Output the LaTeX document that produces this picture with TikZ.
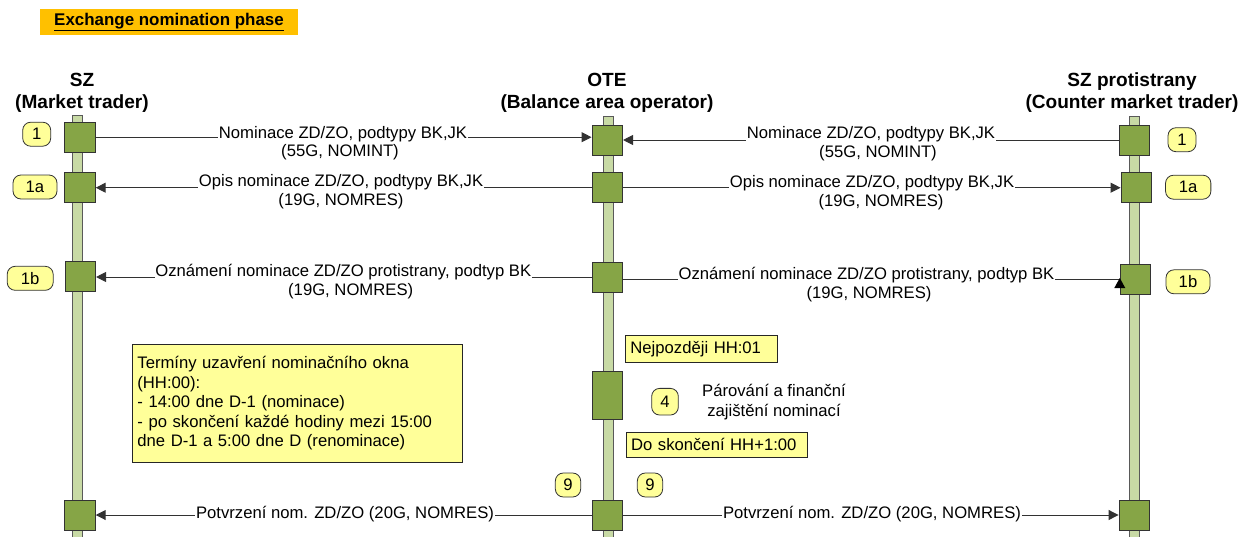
\documentclass[tikz,border=0pt]{standalone}
\usepackage{fontspec}
\setmainfont{Liberation Sans}
\usetikzlibrary{arrows.meta,calc}
\definecolor{boxgreen}{RGB}{134,165,70}
\definecolor{barcol}{RGB}{200,218,165}
\definecolor{noteyel}{RGB}{255,255,153}
\definecolor{titleorange}{RGB}{255,192,0}
\definecolor{linecol}{RGB}{50,50,50}
\newcommand\bodyf{\fontsize{12.5}{14.6}\selectfont}
\newcommand\headf{\fontsize{14.3}{16}\selectfont\bfseries}
\newcommand\titlef{\fontsize{12.7}{15}\selectfont\bfseries}
\begin{document}
\begin{tikzpicture}[x=0.75pt,y=-0.75pt,
  lifebar/.style={fill=barcol,draw=black!65,line width=0.6pt},
  actbox/.style={fill=boxgreen,draw=black!80,line width=0.6pt,minimum width=23pt,minimum height=22.5pt,inner sep=0pt},
  badge/.style={fill=noteyel,draw=black!80,line width=0.6pt,rounded corners=6pt,minimum height=18pt,inner sep=0pt,font=\bodyf},
  msgline/.style={draw=linecol,line width=0.75pt},
  msgarrow/.style={msgline,-{Triangle[length=7.5pt,width=7.5pt]}},
  lbl/.style={font=\bodyf,fill=white,inner xsep=0.5pt,inner ysep=1pt,anchor=base},
  lbl2/.style={font=\bodyf,inner sep=0pt,anchor=base},
  header/.style={font=\headf,inner sep=0pt,anchor=base},
  notebox/.style={fill=noteyel,draw=black!85,line width=0.6pt,font=\bodyf,align=left,inner xsep=3.75pt,inner ysep=0pt}
]
\useasboundingbox (0,0) rectangle (1241,536);

% title
\node[fill=titleorange,minimum width=193.5pt,minimum height=19.5pt,inner sep=0pt,font=\titlef] (title) at (169,22) {\underline{Exchange nomination phase}};

% headers
\node[header] (hsz) at (82,86) {SZ};
\node[header] (hsz2) at (82,108) {(Market trader)};
\node[header] (hote) at (607,86) {OTE};
\node[header] (hote2) at (607,108) {(Balance area operator)};
\node[header] (hcp) at (1132,86) {SZ protistrany};
\node[header] (hcp2) at (1132,108) {(Counter market trader)};

% lifelines
\draw[lifebar] (72.7,115.7) rectangle (82.7,540);
\draw[lifebar] (603.3,116.7) rectangle (613.3,540);
\draw[lifebar] (1129.3,116.7) rectangle (1139.3,540);

% activation boxes
\node[actbox] (l1) at (80,137.2) {};
\node[actbox] (l1a) at (80,187) {};
\node[actbox] (l1b) at (80.3,276.7) {};
\node[actbox] (l9) at (80,515) {};
\node[actbox] (o1) at (607.3,140) {};
\node[actbox] (o1a) at (607.3,187.7) {};
\node[actbox] (o1b) at (607.3,277) {};
\node[actbox,minimum height=35.7pt] (o4) at (607.3,395.5) {};
\node[actbox] (o9) at (607.3,515) {};
\node[actbox] (r1) at (1134.3,140) {};
\node[actbox] (r1a) at (1136.3,187.3) {};
\node[actbox] (r1b) at (1135.5,279.3) {};
\node[actbox] (r9) at (1134.3,515) {};

% messages
\draw[msgarrow] (l1.east) -- (l1.east -| o1.west);
\draw[msgarrow] (r1.west) -- (r1.west -| o1.east);
\draw[msgarrow] (o1a.west) -- (o1a.west -| l1a.east);
\draw[msgarrow] (o1a.east) -- (o1a.east -| r1a.west);
\draw[msgarrow] (o1b.west) -- (o1b.west -| l1b.east);
\draw[msgline] (o1b.east |- r1b.west) -- (r1b.west);
\fill[black] ($(r1b.west)+(-5.5,8.7)$) -- ($(r1b.west)+(5.5,8.7)$) -- ($(r1b.west)+(0,-1.3)$) -- cycle;
\draw[msgarrow] (o9.west) -- (o9.west -| l9.east);
\draw[msgarrow] (o9.east) -- (o9.east -| r9.west);

% message labels
\node[lbl] (m1l) at (343,138) {Nominace ZD/ZO, podtypy BK,JK};
\node[lbl2] (m1l2) at (340,156.7) {(55G, NOMINT)};
\node[lbl] (m1r) at (871,138.5) {Nominace ZD/ZO, podtypy BK,JK};
\node[lbl2] (m1r2) at (878,157.5) {(55G, NOMINT)};
\node[lbl] (m1al) at (341,186.5) {Opis nominace ZD/ZO, podtypy BK,JK};
\node[lbl2] (m1al2) at (341,205.5) {(19G, NOMRES)};
\node[lbl] (m1ar) at (872,187) {Opis nominace ZD/ZO, podtypy BK,JK};
\node[lbl2] (m1ar2) at (881,206) {(19G, NOMRES)};
\node[lbl] (m1bl) at (343.3,276.7) {Oznámení nominace ZD/ZO protistrany, podtyp BK};
\node[lbl2] (m1bl2) at (350.7,295.5) {(19G, NOMRES)};
\node[lbl] (m1br) at (866.5,279) {Oznámení nominace ZD/ZO protistrany, podtyp BK};
\node[lbl2] (m1br2) at (869,298) {(19G, NOMRES)};
\node[lbl,anchor=center] (m9l) at (345,514) {Potvrzení nom. ZD/ZO (20G, NOMRES)};
\node[lbl,anchor=center] (m9r) at (872,514) {Potvrzení nom. ZD/ZO (20G, NOMRES)};

% badges
\node[badge,minimum width=21pt] (b1l) at (36.7,134.2) {1};
\node[badge,minimum width=21pt] (b1r) at (1182,139.7) {1};
\node[badge,minimum width=33pt] (b1al) at (35,187) {1a};
\node[badge,minimum width=34pt] (b1ar) at (1188.2,187.2) {1a};
\node[badge,minimum width=34.5pt] (b1bl) at (30.2,278.3) {1b};
\node[badge,minimum width=33pt] (b1br) at (1188,281.8) {1b};
\node[badge,minimum width=20pt,minimum height=20pt] (b4) at (665,401.7) {4};
\node[badge,minimum width=19pt] (b9l) at (568,485) {9};
\node[badge,minimum width=19pt] (b9r) at (650,485) {9};

% notes
\node[notebox,anchor=north west,text width=240pt,minimum height=88.5pt] (note) at (132,344)
  {Termíny uzavření nominačního okna\\(HH:00):\\- 14:00 dne D-1 (nominace)\\- po skončení každé hodiny mezi 15:00\\dne D-1 a 5:00 dne D (renominace)};
\node[notebox,anchor=north west,text width=106.5pt,minimum height=20.25pt] (late) at (625,335) {Nejpozději HH:01};
\node[notebox,anchor=north west,text width=128.25pt,minimum height=19.2pt] (until) at (625.7,431.7) {Do skončení HH+1:00};
\node[lbl2] (proc1) at (774,396.7) {Párování a finanční};
\node[lbl2] (proc2) at (774,416.7) {zajištění nominací};
\end{tikzpicture}
\end{document}
